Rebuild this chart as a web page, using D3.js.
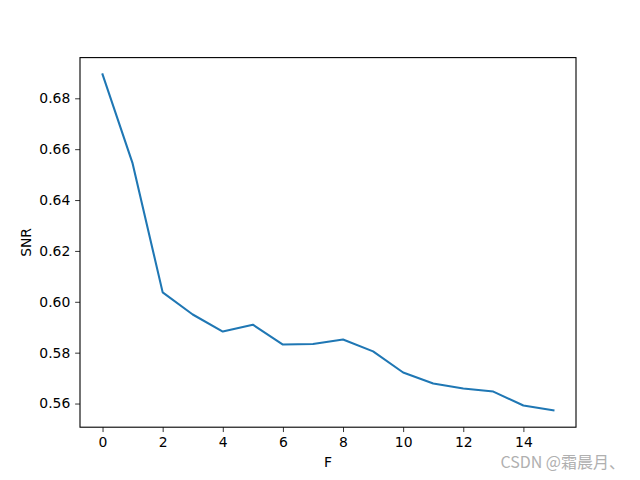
<!DOCTYPE html>
<html>
<head>
<meta charset="utf-8">
<script src="https://cdn.jsdelivr.net/npm/d3@7"></script>
<style>
  body { margin: 0; background: #fff; }
  text { font-family: "DejaVu Sans", sans-serif; }
</style>
</head>
<body>
<script>
const fValues = [0, 1, 2, 3, 4, 5, 6, 7, 8, 9, 10, 11, 12, 13, 14, 15];
const snrValues = [0.6894, 0.6544, 0.6037, 0.5950, 0.5883, 0.5910, 0.5832, 0.5834,
  0.5852, 0.5805, 0.5722, 0.5679, 0.5659, 0.5647, 0.5592, 0.5573];
const xTicks = [0, 2, 4, 6, 8, 10, 12, 14];
const yTicks = [0.56, 0.58, 0.60, 0.62, 0.64, 0.66, 0.68];

const w = 640;
const h = 480;
const mLeft = 80, mRight = 576, mTop = 57.6, mBottom = 427.2;

const svg = d3.select("body").append("svg").attr("width", w).attr("height", h);

const xPad = (15 - 0) * 0.05;
const x = d3.scaleLinear().domain([0 - xPad, 15 + xPad]).range([mLeft, mRight]);
const yMin = d3.min(snrValues), yMax = d3.max(snrValues);
const yPad = (yMax - yMin) * 0.05;
const y = d3.scaleLinear().domain([yMin - yPad, yMax + yPad]).range([mBottom, mTop]);

const xAxis = svg.append("g")
  .attr("transform", `translate(0,${mBottom})`)
  .call(d3.axisBottom(x).tickValues(xTicks).tickFormat(d3.format("d")).tickSize(4.86).tickPadding(4.86));
const yAxis = svg.append("g")
  .attr("transform", `translate(${mLeft},0)`)
  .call(d3.axisLeft(y).tickValues(yTicks).tickFormat(d3.format(".2f")).tickSize(4.86).tickPadding(4.86));

[xAxis, yAxis].forEach(g => {
  g.select(".domain").remove();
  g.selectAll("line").attr("stroke", "#000").attr("stroke-width", 0.8);
  g.selectAll("text").attr("font-size", 13.9).attr("fill", "#000")
    .style("font-family", "DejaVu Sans");
});

const line = d3.line()
  .x((d, i) => x(fValues[i]))
  .y(d => y(d));

svg.append("path")
  .datum(snrValues)
  .attr("fill", "none")
  .attr("stroke", "#1f77b4")
  .attr("stroke-width", 2.08)
  .attr("stroke-linecap", "square")
  .attr("stroke-linejoin", "round")
  .attr("d", line);

svg.append("rect")
  .attr("x", mLeft)
  .attr("y", mTop)
  .attr("width", mRight - mLeft)
  .attr("height", mBottom - mTop)
  .attr("fill", "none")
  .attr("stroke", "#000")
  .attr("stroke-width", 1.1);

svg.append("text")
  .attr("x", (mLeft + mRight) / 2)
  .attr("y", 467)
  .attr("text-anchor", "middle")
  .attr("font-size", 13.9)
  .text("F");

svg.append("text")
  .attr("transform", `translate(31,${(mTop + mBottom) / 2}) rotate(-90)`)
  .attr("text-anchor", "middle")
  .attr("font-size", 13.9)
  .text("SNR");

svg.append("text")
  .attr("x", 625)
  .attr("y", 468)
  .attr("text-anchor", "end")
  .attr("font-size", 16)
  .attr("fill", "#b0b0b0")
  .style("font-family", "'Noto Sans CJK SC', sans-serif")
  .text("CSDN @霜晨月、");
</script>
</body>
</html>
